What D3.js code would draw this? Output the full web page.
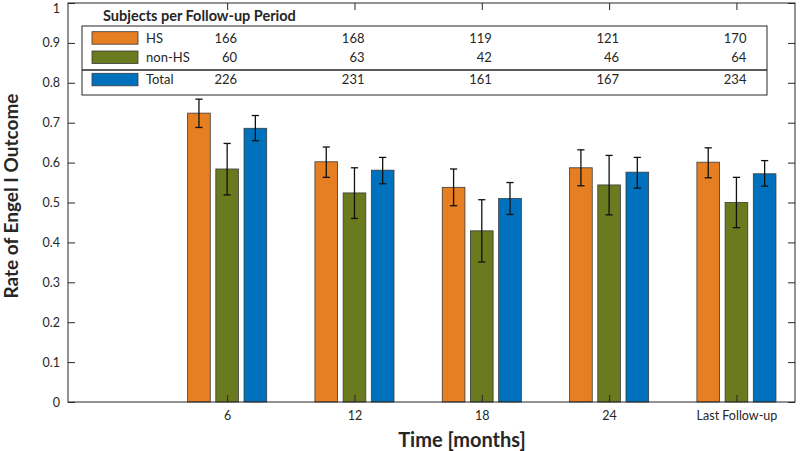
<!DOCTYPE html>
<html>
<head>
<meta charset="utf-8">
<script src="https://cdn.jsdelivr.net/npm/d3@7"></script>
<style>
  html, body { margin: 0; padding: 0; background: #fff; }
  svg { display: block; }
  text { font-family: Lato, "Open Sans", sans-serif; fill: #262626; }
</style>
</head>
<body>
<svg id="chart" width="800" height="451"></svg>
<script>
// ---- data ----
const categories = ["6", "12", "18", "24", "Last Follow-up"];
const seriesNames = ["HS", "non-HS", "Total"];
const hsRate    = [0.724, 0.602, 0.538, 0.587, 0.601];
const hsLow     = [0.688, 0.563, 0.492, 0.542, 0.562];
const hsHigh    = [0.759, 0.639, 0.584, 0.632, 0.637];
const nonHsRate = [0.584, 0.524, 0.429, 0.544, 0.500];
const nonHsLow  = [0.519, 0.460, 0.351, 0.469, 0.437];
const nonHsHigh = [0.648, 0.587, 0.507, 0.618, 0.563];
const totalRate = [0.686, 0.581, 0.510, 0.576, 0.572];
const totalLow  = [0.655, 0.547, 0.470, 0.536, 0.541];
const totalHigh = [0.718, 0.613, 0.550, 0.613, 0.605];
const hsN    = [166, 168, 119, 121, 170];
const nonHsN = [60, 63, 42, 46, 64];
const totalN = [226, 231, 161, 167, 234];
const yTicks = [0, 0.1, 0.2, 0.3, 0.4, 0.5, 0.6, 0.7, 0.8, 0.9, 1];
const colors = ["#E67E22", "#6A7A1E", "#0072BD"];

const series = [
  { name: seriesNames[0], rate: hsRate, low: hsLow, high: hsHigh, n: hsN, color: colors[0], off: -1 },
  { name: seriesNames[1], rate: nonHsRate, low: nonHsLow, high: nonHsHigh, n: nonHsN, color: colors[1], off: 0 },
  { name: seriesNames[2], rate: totalRate, low: totalLow, high: totalHigh, n: totalN, color: colors[2], off: 1 }
];

// ---- layout ----
const L = 68, R = 795, T = 3, B = 402;
const svg = d3.select("#chart");
const x = d3.scaleLinear().domain([-1.25, 4.46]).range([L, R]);
const y = d3.scaleLinear().domain([0, 1]).range([B, T]);
const groupOff = 0.2215, barW = 0.178;
const axisColor = "#262626";

// ---- bars ----
const bars = svg.append("g");
series.forEach(s => {
  bars.selectAll(null).data(categories.map((c, i) => i)).enter().append("rect")
    .attr("x", i => x(i + s.off * groupOff - barW / 2))
    .attr("width", i => x(barW) - x(0))
    .attr("y", i => y(s.rate[i]))
    .attr("height", i => y(0) - y(s.rate[i]))
    .attr("fill", s.color)
    .attr("stroke", "#3a3a3a")
    .attr("stroke-width", 0.8);
});

// ---- error bars ----
const eb = svg.append("g").attr("stroke", "#111").attr("stroke-width", 1.3).attr("fill", "none");
series.forEach(s => {
  categories.forEach((c, i) => {
    const cx = x(i + s.off * groupOff);
    eb.append("line").attr("x1", cx).attr("x2", cx).attr("y1", y(s.low[i])).attr("y2", y(s.high[i]));
    eb.append("line").attr("x1", cx - 3.6).attr("x2", cx + 3.6).attr("y1", y(s.low[i])).attr("y2", y(s.low[i]));
    eb.append("line").attr("x1", cx - 3.6).attr("x2", cx + 3.6).attr("y1", y(s.high[i])).attr("y2", y(s.high[i]));
  });
});

// ---- axes ----
function styleAxis(g, showLabels) {
  g.select(".domain").remove();
  g.selectAll(".tick line").attr("stroke", axisColor);
  g.selectAll(".tick text").style("font-family", "Lato, 'Open Sans', sans-serif")
    .style("font-size", "12.5px").attr("fill", axisColor);
  if (!showLabels) g.selectAll(".tick text").remove();
}
const tickIdx = categories.map((c, i) => i);
svg.append("g").attr("transform", `translate(${L},0)`)
  .call(d3.axisLeft(y).tickValues(yTicks).tickFormat(d => d3.format("~g")(d)).tickSize(-7).tickPadding(8))
  .call(g => styleAxis(g, true))
  .call(g => g.selectAll(".tick text").filter(d => d === 1).attr("dy", "0.75em"));
svg.append("g").attr("transform", `translate(${R},0)`)
  .call(d3.axisRight(y).tickValues(yTicks).tickSize(-7))
  .call(g => styleAxis(g, false));
svg.append("g").attr("transform", `translate(0,${B})`)
  .call(d3.axisBottom(x).tickValues(tickIdx).tickFormat(i => categories[i]).tickSize(-7).tickPadding(9))
  .call(g => styleAxis(g, true));
svg.append("g").attr("transform", `translate(0,${T})`)
  .call(d3.axisTop(x).tickValues(tickIdx).tickSize(-7))
  .call(g => styleAxis(g, false));
svg.append("rect").attr("x", L).attr("y", T).attr("width", R - L).attr("height", B - T)
  .attr("fill", "none").attr("stroke", axisColor).attr("stroke-width", 1);

// ---- axis titles ----
svg.append("text").attr("x", 462).attr("y", 447).attr("text-anchor", "middle")
  .style("font-size", "20px").style("font-weight", "bold").attr("fill", "#000").text("Time [months]");
svg.append("text").attr("transform", "translate(18,196) rotate(-90)").attr("text-anchor", "middle")
  .style("font-size", "19px").style("font-weight", "bold").attr("fill", "#000").text("Rate of Engel I Outcome");

// ---- table legend ----
const tbl = svg.append("g");
tbl.append("text").attr("x", 103).attr("y", 21).style("font-size", "14.5px").style("font-weight", "bold")
  .attr("fill", "#000").text("Subjects per Follow-up Period");
tbl.append("rect").attr("x", 82).attr("y", 26).attr("width", 685).attr("height", 69)
  .attr("fill", "#fff").attr("stroke", axisColor).attr("stroke-width", 1);
tbl.append("line").attr("x1", 82).attr("x2", 767).attr("y1", 70).attr("y2", 70)
  .attr("stroke", axisColor).attr("stroke-width", 1.6);
const rowTop = [31.7, 51, 73.3];
series.forEach((s, r) => {
  tbl.append("rect").attr("x", 92).attr("y", rowTop[r]).attr("width", 46).attr("height", 12.5)
    .attr("fill", s.color).attr("stroke", "#3a3a3a").attr("stroke-width", 0.8);
  tbl.append("text").attr("x", 146).attr("y", rowTop[r] + 11).style("font-size", "13px")
    .attr("fill", "#1a1a1a").text(s.name);
  tbl.selectAll(null).data(s.n).enter().append("text")
    .attr("x", (d, i) => x(i) + 10).attr("y", rowTop[r] + 11).attr("text-anchor", "end")
    .style("font-size", "13px").attr("fill", "#1a1a1a").text(d => d);
});
</script>
</body>
</html>
